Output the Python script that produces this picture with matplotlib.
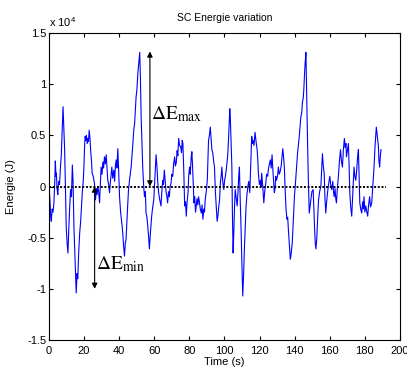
import numpy as np
import matplotlib
matplotlib.use("Agg")
import matplotlib.pyplot as plt
from matplotlib.ticker import FuncFormatter

plt.rcParams['font.family'] = ['Liberation Sans', 'DejaVu Sans']
plt.rcParams['mathtext.fontset'] = 'stix'

# time (s) and energy variation (x 10^4 J)
time_s = [0.0, 0.5, 1.0, 1.3, 1.8, 2.3, 2.8, 3.3, 3.6, 4.0,
          4.2, 4.6, 5.0, 5.5, 6.0, 6.6, 7.0, 7.5, 8.0, 8.4,
          8.9, 9.3, 9.8, 10.3, 10.8, 11.3, 11.8, 12.3, 12.8, 13.3,
          13.7, 14.2, 14.8, 15.5, 16.0, 16.4, 16.9, 17.5, 18.0, 18.4,
          19.0, 19.5, 19.9, 20.3, 20.6, 21.0, 21.3, 21.8, 22.2, 22.5,
          22.9, 23.3, 23.7, 24.2, 24.6, 25.2, 25.9, 26.5, 27.0, 27.4,
          27.8, 28.3, 28.8, 29.2, 29.7, 30.2, 30.7, 31.1, 31.6, 32.1,
          32.6, 33.0, 33.5, 34.0, 34.5, 35.0, 35.4, 35.8, 36.3, 36.9,
          37.4, 37.8, 38.3, 38.7, 39.2, 39.7, 40.2, 40.8, 41.5, 42.0,
          42.5, 43.0, 43.5, 43.9, 44.5, 45.3, 46.0, 46.8, 47.5, 48.3,
          48.8, 49.2, 49.6, 50.1, 50.6, 51.1, 51.7, 52.1, 52.5, 53.0,
          53.4, 53.9, 54.4, 54.9, 55.3, 55.8, 56.3, 56.8, 57.2, 57.8,
          58.5, 59.1, 59.7, 60.4, 61.0, 61.5, 61.9, 62.4, 63.0, 63.8,
          64.3, 64.8, 65.2, 65.7, 66.2, 66.7, 67.2, 67.6, 68.1, 68.6,
          69.0, 69.5, 70.0, 70.5, 71.0, 71.6, 72.0, 72.5, 73.0, 73.4,
          73.9, 74.4, 75.0, 75.5, 75.9, 76.3, 76.8, 77.3, 77.8, 78.2,
          78.7, 79.2, 79.6, 80.1, 80.5, 81.0, 81.4, 81.8, 82.2, 82.6,
          83.0, 83.5, 83.9, 84.3, 84.8, 85.2, 85.7, 86.2, 86.8, 87.2,
          87.7, 88.2, 88.6, 89.0, 89.6, 90.2, 90.6, 90.9, 91.4, 91.9,
          92.4, 92.8, 93.3, 93.8, 94.3, 94.8, 95.3, 95.8, 96.3, 96.7,
          97.2, 97.7, 98.1, 98.5, 99.0, 99.6, 100.0, 100.5, 101.0, 101.5,
          101.9, 102.4, 103.0, 103.3, 103.7, 104.2, 104.5, 104.9, 105.3, 105.7,
          106.1, 106.6, 107.2, 107.7, 108.1, 108.5, 108.9, 109.5, 109.9, 110.4,
          110.9, 111.4, 111.8, 112.3, 112.8, 113.3, 113.8, 114.4, 114.9, 115.5,
          115.9, 116.3, 116.8, 117.4, 117.9, 118.6, 119.0, 119.3, 119.9, 120.5,
          120.8, 121.2, 121.7, 122.4, 122.9, 123.5, 124.0, 124.6, 125.1, 125.6,
          126.1, 126.6, 127.1, 127.6, 128.0, 128.4, 128.8, 129.2, 129.6, 130.2,
          130.7, 131.2, 131.8, 132.3, 132.7, 133.2, 133.6, 134.1, 134.6, 135.1,
          135.6, 136.0, 136.4, 136.9, 137.5, 137.8, 138.2, 138.6, 139.0, 139.5,
          139.9, 140.3, 140.7, 141.1, 141.6, 142.1, 142.6, 143.0, 143.5, 144.0,
          144.4, 144.9, 145.2, 145.6, 146.0, 146.4, 146.8, 147.3, 147.8, 148.3,
          148.7, 149.2, 149.8, 150.5, 150.9, 151.3, 151.7, 152.1, 152.6, 153.1,
          153.6, 154.2, 154.9, 155.3, 155.8, 156.3, 156.8, 157.2, 157.7, 158.2,
          158.7, 159.3, 160.0, 160.5, 161.1, 161.7, 162.1, 162.5, 163.0, 163.4,
          163.8, 164.3, 164.9, 165.5, 166.1, 166.6, 167.2, 167.7, 168.3, 168.8,
          169.2, 169.5, 170.0, 170.6, 171.0, 171.4, 171.9, 172.5, 173.0, 173.4,
          173.8, 174.3, 174.8, 175.3, 175.8, 176.3, 176.7, 177.1, 177.6, 178.2,
          178.7, 179.1, 179.5, 180.0, 180.5, 181.0, 181.6, 182.1, 182.7, 183.2,
          183.9, 184.5, 185.2, 185.8, 186.5, 186.9, 187.3, 187.7, 188.0, 188.4,
          188.8, 189.2]
energy_e4 = [0.00, -0.12, -0.30, -0.34, -0.22, -0.25, -0.16, 0.05, 0.25, 0.10,
             0.13, -0.02, -0.08, 0.05, 0.02, 0.21, 0.30, 0.55, 0.78, 0.60,
             0.36, 0.05, -0.39, -0.55, -0.65, -0.40, -0.20, -0.03, -0.10, 0.21,
             0.05, -0.39, -0.70, -1.04, -0.85, -0.90, -0.65, -0.45, -0.35, -0.23,
             -0.05, 0.05, 0.19, 0.40, 0.49, 0.45, 0.50, 0.42, 0.47, 0.44,
             0.55, 0.48, 0.36, 0.25, 0.13, 0.10, 0.03, -0.13, -0.02, -0.08,
             0.00, -0.05, -0.16, 0.00, 0.19, 0.12, 0.24, 0.18, 0.29, 0.22,
             0.31, 0.20, 0.06, 0.02, -0.06, 0.05, 0.12, 0.19, 0.08, 0.16,
             0.05, 0.20, 0.26, 0.18, 0.37, 0.15, -0.10, -0.25, -0.36, -0.45,
             -0.58, -0.68, -0.55, -0.52, -0.30, -0.03, 0.08, 0.19, 0.35, 0.55,
             0.62, 0.75, 0.87, 0.95, 1.10, 1.20, 1.31, 1.05, 0.68, 0.40,
             0.19, 0.02, -0.10, -0.05, -0.26, -0.30, -0.39, -0.50, -0.61, -0.45,
             -0.29, -0.20, -0.13, 0.10, 0.31, 0.20, 0.06, -0.05, -0.12, -0.19,
             -0.05, 0.06, 0.02, 0.16, 0.05, -0.05, -0.10, -0.16, -0.05, -0.10,
             0.00, 0.03, 0.12, 0.10, 0.22, 0.29, 0.20, 0.23, 0.35, 0.30,
             0.47, 0.40, 0.39, 0.33, 0.45, 0.42, 0.15, -0.19, -0.15, -0.29,
             -0.15, -0.06, 0.10, 0.19, 0.12, 0.28, 0.34, 0.20, 0.02, -0.16,
             -0.10, -0.25, -0.19, -0.12, -0.18, -0.10, -0.15, -0.22, -0.26, -0.18,
             -0.32, -0.22, -0.25, -0.13, -0.05, 0.06, 0.30, 0.45, 0.50, 0.58,
             0.45, 0.36, 0.33, 0.25, 0.19, -0.05, -0.20, -0.34, -0.28, -0.20,
             -0.13, 0.05, 0.10, 0.19, 0.05, -0.03, 0.05, 0.10, 0.16, 0.25,
             0.32, 0.50, 0.76, 0.68, 0.45, 0.19, -0.25, -0.65, -0.45, -0.20,
             -0.03, -0.10, -0.19, -0.05, 0.10, 0.19, -0.10, -0.45, -0.75, -1.07,
             -0.85, -0.58, -0.40, -0.19, -0.08, 0.00, 0.05, -0.06, 0.20, 0.49,
             0.42, 0.45, 0.40, 0.53, 0.45, 0.36, 0.25, 0.13, 0.02, 0.06,
             0.00, 0.13, 0.02, -0.16, -0.05, 0.03, 0.12, 0.10, 0.18, 0.22,
             0.26, 0.18, 0.31, 0.15, 0.05, -0.06, -0.02, 0.10, 0.06, 0.10,
             0.19, 0.12, 0.15, 0.20, 0.28, 0.37, 0.30, 0.19, -0.05, -0.23,
             -0.32, -0.30, -0.42, -0.55, -0.71, -0.68, -0.62, -0.55, -0.40, -0.20,
             -0.08, 0.00, 0.10, 0.19, 0.32, 0.40, 0.49, 0.58, 0.68, 0.72,
             0.82, 0.87, 0.95, 1.10, 1.22, 1.31, 0.90, 0.45, 0.05, -0.26,
             -0.20, -0.13, -0.05, -0.03, -0.20, -0.40, -0.55, -0.61, -0.50, -0.30,
             -0.13, -0.05, 0.00, 0.15, 0.32, 0.20, 0.13, -0.10, -0.26, -0.15,
             -0.06, 0.02, 0.10, 0.02, -0.03, 0.05, -0.05, -0.10, -0.02, -0.12,
             -0.16, -0.02, 0.10, 0.25, 0.36, 0.25, 0.19, 0.35, 0.47, 0.38,
             0.42, 0.29, 0.35, 0.42, 0.20, -0.06, -0.20, -0.29, -0.10, 0.05,
             0.19, 0.10, 0.06, 0.15, 0.28, 0.36, 0.10, -0.16, -0.22, -0.26,
             -0.15, -0.22, -0.10, -0.25, -0.19, -0.24, -0.29, -0.18, -0.10, -0.20,
             -0.16, 0.00, 0.19, 0.40, 0.58, 0.52, 0.45, 0.39, 0.25, 0.19,
             0.30, 0.36]

zero_span = [0, 192]
dE_max = (57.5, 1.32)   # arrow x, top value
dE_min = (26.0, -1.0)   # arrow x, bottom value

fig = plt.figure(figsize=(4.07, 3.70), dpi=100)
ax = fig.add_axes([49/407, 1-340/370, 351/407, 307/370])

ax.plot(time_s, energy_e4, color='#0000ff', lw=0.8)
ax.plot(zero_span, [0, 0], color='k', lw=1.4, linestyle=(0, (1, 0.9)))

arrow = dict(arrowstyle='<|-|>', color='k', lw=0.8, mutation_scale=8, shrinkA=0, shrinkB=0)
ax.annotate('', xy=(dE_max[0], dE_max[1]), xytext=(dE_max[0], 0), arrowprops=arrow)
ax.annotate('', xy=(dE_min[0], dE_min[1]), xytext=(dE_min[0], 0), arrowprops=arrow)
ax.text(dE_max[0] + 0.5, 0.66, r'$\mathrm{\Delta E_{max}}$', fontsize=14, ha='left', va='baseline')
ax.text(dE_min[0] + 0.5, -0.81, r'$\mathrm{\Delta E_{min}}$', fontsize=14, ha='left', va='baseline')

ax.set_xlim(0, 200)
ax.set_ylim(-1.5, 1.5)
ax.set_xticks(np.arange(0, 201, 20))
ax.set_yticks(np.arange(-1.5, 1.51, 0.5))
ax.yaxis.set_major_formatter(FuncFormatter(lambda v, p: '%g' % v))
ax.tick_params(direction='in', top=True, right=True, length=3, width=0.8, labelsize=8)
ax.tick_params(axis='x', pad=4)
ax.tick_params(axis='y', pad=2)
for s in ax.spines.values():
    s.set_linewidth(0.8)

ax.text(0, 1.012, r'x 10$^{\mathregular{4}}$', transform=ax.transAxes, fontsize=8, ha='left', va='bottom')
ax.set_title('SC Energie variation', fontsize=7.5, pad=9)
ax.set_xlabel('Time (s)', fontsize=8, labelpad=1)
ax.set_ylabel('Energie (J)', fontsize=8, labelpad=8)

fig.savefig('out.png', dpi=100)
